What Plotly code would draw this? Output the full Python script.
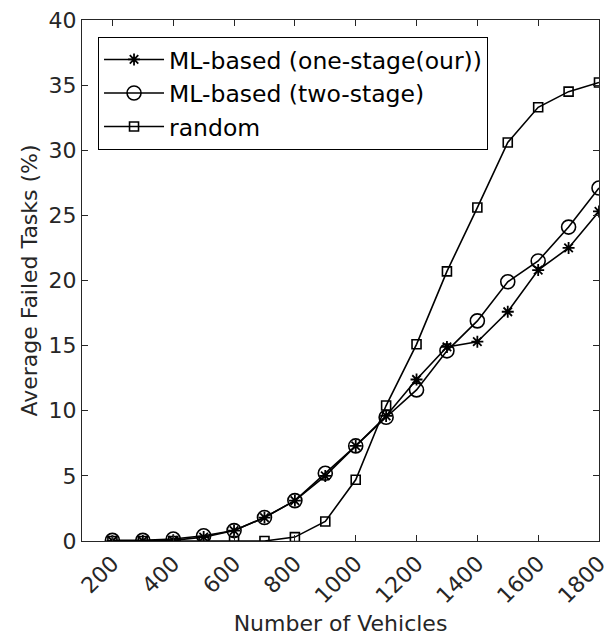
import plotly.graph_objects as go

vehicles = [200, 300, 400, 500, 600, 700, 800, 900, 1000, 1100, 1200, 1300, 1400, 1500, 1600, 1700, 1800]
one_stage = [0.0, 0.0, 0.05, 0.3, 0.8, 1.8, 3.1, 5.0, 7.3, 9.6, 12.4, 14.9, 15.3, 17.6, 20.8, 22.5, 25.3]
two_stage = [0.05, 0.05, 0.15, 0.4, 0.8, 1.8, 3.1, 5.2, 7.3, 9.5, 11.6, 14.6, 16.9, 19.9, 21.5, 24.1, 27.1]
random_ = [0.0, 0.0, 0.0, 0.0, 0.0, 0.0, 0.3, 1.5, 4.7, 10.4, 15.1, 20.7, 25.6, 30.6, 33.3, 34.5, 35.2]

x_ticks = [200, 400, 600, 800, 1000, 1200, 1400, 1600, 1800]
y_ticks = [0, 5, 10, 15, 20, 25, 30, 35, 40]

names = ["ML-based (one-stage(our))", "ML-based (two-stage)", "random"]

fig = go.Figure()
fig.add_trace(go.Scatter(x=vehicles, y=one_stage, name=names[0], mode="lines+markers",
                         line=dict(color="black", width=1.6),
                         marker=dict(symbol="asterisk-open", size=10, color="black",
                                     line=dict(color="black", width=1.8))))
fig.add_trace(go.Scatter(x=vehicles, y=two_stage, name=names[1], mode="lines+markers",
                         line=dict(color="black", width=1.6),
                         marker=dict(symbol="circle-open", size=14, color="black",
                                     line=dict(color="black", width=1.6))))
fig.add_trace(go.Scatter(x=vehicles, y=random_, name=names[2], mode="lines+markers",
                         line=dict(color="black", width=1.6),
                         marker=dict(symbol="square-open", size=9, color="black",
                                     line=dict(color="black", width=1.6))))

axis_color = "#262626"
fig.update_layout(
    width=604, height=629,
    margin=dict(l=74, r=13, t=12, b=96, autoexpand=False),
    paper_bgcolor="white", plot_bgcolor="white",
    font=dict(family="DejaVu Sans", size=22, color=axis_color),
    showlegend=True,
    legend=dict(x=0.031, y=0.968, xanchor="left", yanchor="top",
                bordercolor="black", borderwidth=1, bgcolor="white",
                font=dict(size=23.5, color="black"), tracegroupgap=0,
                itemwidth=60),
    xaxis=dict(range=[100, 1800], tickvals=x_ticks, ticktext=[str(v) for v in x_ticks],
               tickangle=-45, ticks="inside", ticklen=6, tickcolor=axis_color,
               showline=True, linecolor=axis_color, linewidth=1, mirror="ticks",
               showgrid=False, zeroline=False, automargin=False, ticklabeloverflow="allow",
               title=dict(text="Number of Vehicles", font=dict(size=22), standoff=8)),
    yaxis=dict(range=[0, 40], tickvals=y_ticks, ticks="inside", ticklen=6, tickcolor=axis_color,
               showline=True, linecolor=axis_color, linewidth=1, mirror="ticks",
               showgrid=False, zeroline=False, automargin=False, ticklabeloverflow="allow",
               title=dict(text="Average Failed Tasks (%)", font=dict(size=22), standoff=4)),
)

fig.write_html("out.html")
